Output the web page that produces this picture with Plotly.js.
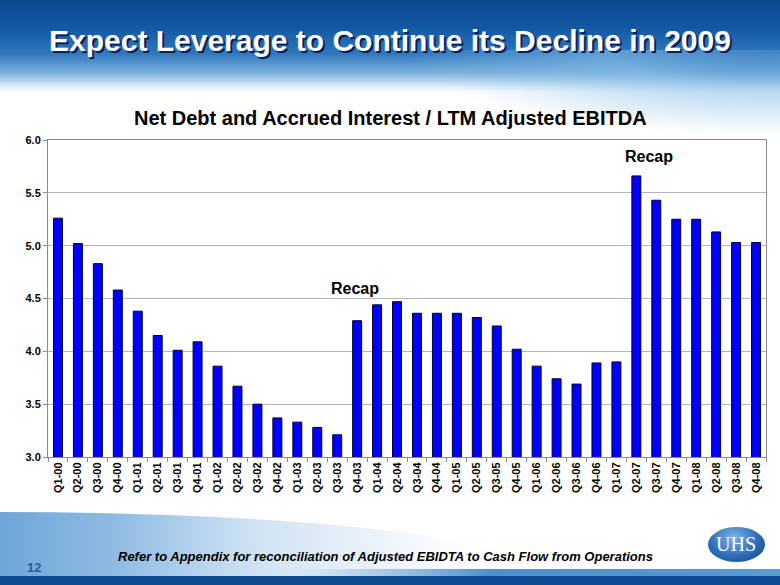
<!DOCTYPE html>
<html>
<head>
<meta charset="utf-8">
<script src="https://cdn.plot.ly/plotly-3.0.1.min.js"></script>
<style>
  html, body { margin:0; padding:0; width:780px; height:585px; overflow:hidden; background:#ffffff; }
  #bg-top { position:absolute; left:0; top:0; width:780px; height:92px;
    background: linear-gradient(to bottom, #0a4a90 0%, #1258a2 30%, #2f78bc 58%, #7fb3de 80%, #d8eaf7 93%, #ffffff 100%); }
  #bg-top-r { position:absolute; left:380px; top:50px; width:520px; height:85px;
    background: radial-gradient(ellipse 70% 100% at 75% 0%, rgba(70,135,200,0.85) 0%, rgba(130,185,228,0.6) 45%, rgba(255,255,255,0) 100%); }
  #swoosh { position:absolute; left:0; top:512px; width:460px; height:64px;
    background: linear-gradient(to right, #6ea6d7 0%, #8fbbe2 25%, #cfe2f3 55%, rgba(255,255,255,0) 100%);
    clip-path: ellipse(120% 100% at 0% 100%); }
  #bg-bot1 { position:absolute; left:300px; top:569px; width:480px; height:7px;
    background: linear-gradient(to right, rgba(90,150,210,0) 0%, #4f8fcb 40%, #5a9ad3 100%); }
  #bg-bot2 { position:absolute; left:0; top:576px; width:780px; height:9px; background:#0c4a92; }
  #logo { position:absolute; left:708px; top:527px; width:57px; height:35px; border-radius:50%;
    background: radial-gradient(ellipse at 45% 30%, #7eb2e2 0%, #2c6db6 55%, #0f4389 100%); }
  #chart { position:absolute; left:0; top:0; width:780px; height:585px; }
</style>
</head>
<body>
<div id="bg-top"></div>
<div id="bg-top-r"></div>
<div id="swoosh"></div>
<div id="bg-bot1"></div>
<div id="bg-bot2"></div>
<div id="logo"></div>
<div id="chart"></div>
<script>
const quarters = ["Q1-00","Q2-00","Q3-00","Q4-00","Q1-01","Q2-01","Q3-01","Q4-01","Q1-02","Q2-02","Q3-02","Q4-02",
  "Q1-03","Q2-03","Q3-03","Q4-03","Q1-04","Q2-04","Q3-04","Q4-04","Q1-05","Q2-05","Q3-05","Q4-05",
  "Q1-06","Q2-06","Q3-06","Q4-06","Q1-07","Q2-07","Q3-07","Q4-07","Q1-08","Q2-08","Q3-08","Q4-08"];
const leverage = [5.26,5.02,4.83,4.58,4.38,4.15,4.01,4.09,3.86,3.67,3.50,3.37,
  3.33,3.28,3.21,4.29,4.44,4.47,4.36,4.36,4.36,4.32,4.24,4.02,
  3.86,3.74,3.69,3.89,3.90,5.66,5.43,5.25,5.25,5.13,5.03,5.03];
const yTicks = [3.0,3.5,4.0,4.5,5.0,5.5,6.0];
const recapLabels = [{q:"Q4-03", v:4.59}, {q:"Q2-07", v:5.84}];

const F = "Arial, 'Liberation Sans', sans-serif";
const annotations = [
  {text:"Expect Leverage to Continue its Decline in 2009", xref:"paper", yref:"paper", x:0.5, y:1, yanchor:"middle",
   xanchor:"center", showarrow:false, font:{family:F, size:30, color:"#ffffff",
   shadow:"2px 2px 0px #0a1f5a"}, xshift:-17, yshift:100},
  {text:"Net Debt and Accrued Interest / LTM Adjusted EBITDA", xref:"paper", yref:"paper", x:0.5, y:1, yanchor:"middle",
   xanchor:"center", showarrow:false, font:{family:F, size:20, color:"#000000"}, yshift:22, xshift:-17},
  {text:"<i>Refer to Appendix for reconciliation of Adjusted EBIDTA to Cash Flow from Operations</i>", xref:"paper", yref:"paper",
   x:0.5, y:0, yanchor:"middle", xanchor:"center", showarrow:false, font:{family:F, size:13, color:"#000000"}, yshift:-99, xshift:-22},
  {text:"12", xref:"paper", yref:"paper", x:0, y:0, yanchor:"middle", xanchor:"center", showarrow:false,
   font:{family:F, size:13, color:"#2a5a9a"}, xshift:-14, yshift:-110},
  {text:"UHS", xref:"paper", yref:"paper", x:1, y:0, yanchor:"middle", xanchor:"center", showarrow:false,
   font:{family:"'Liberation Serif', 'DejaVu Serif', serif", size:20, color:"#ffffff"}, xshift:-30, yshift:-87}
];
recapLabels.forEach(r => annotations.push({text:"<b>Recap</b>", x:r.q, y:r.v, xref:"x", yref:"y", showarrow:false,
  xanchor:"center", yanchor:"middle", xshift:(r.q==="Q2-07"?13:-2), font:{family:F, size:16, color:"#000000"}}));
annotations.forEach(a => { if (!a.text.startsWith("<") && a.text !== "UHS") a.text = "<b>" + a.text + "</b>"; });
annotations.forEach(a => { if (a.text.indexOf("<i>")>=0) a.text = "<b>" + a.text + "</b>"; });

const trace = {type:"bar", x:quarters, y:leverage, width:0.45,
  marker:{color:"#0000ff", line:{color:"#000033", width:1}}, hoverinfo:"skip"};

const layout = {
  width:780, height:585,
  margin:{l:48, r:14, t:140, b:128},
  paper_bgcolor:"rgba(0,0,0,0)", plot_bgcolor:"#ffffff",
  showlegend:false, bargap:0.55,
  xaxis:{type:"category", tickangle:-90, tickfont:{family:F, size:11, color:"#000"},
    ticktext:quarters.map(q=>"<b>"+q+"</b>"), tickvals:quarters,
    showline:true, linecolor:"#8a8a8a", linewidth:1, mirror:true, ticks:"outside", tickson:"boundaries",
    ticklen:4, tickcolor:"#8a8a8a", showgrid:false, fixedrange:true},
  yaxis:{range:[3.0,6.0], tickvals:yTicks, ticktext:yTicks.map(v=>"<b>"+v.toFixed(1)+"</b>"),
    tickfont:{family:F, size:11, color:"#000"}, showline:true, linecolor:"#8a8a8a", linewidth:1, mirror:true,
    ticks:"outside", ticklen:4, tickcolor:"#8a8a8a", showgrid:true, gridcolor:"#b4b4b4", gridwidth:1,
    zeroline:false, fixedrange:true},
  annotations:annotations
};
Plotly.newPlot("chart", [trace], layout, {staticPlot:true, displayModeBar:false});
</script>
</body>
</html>
